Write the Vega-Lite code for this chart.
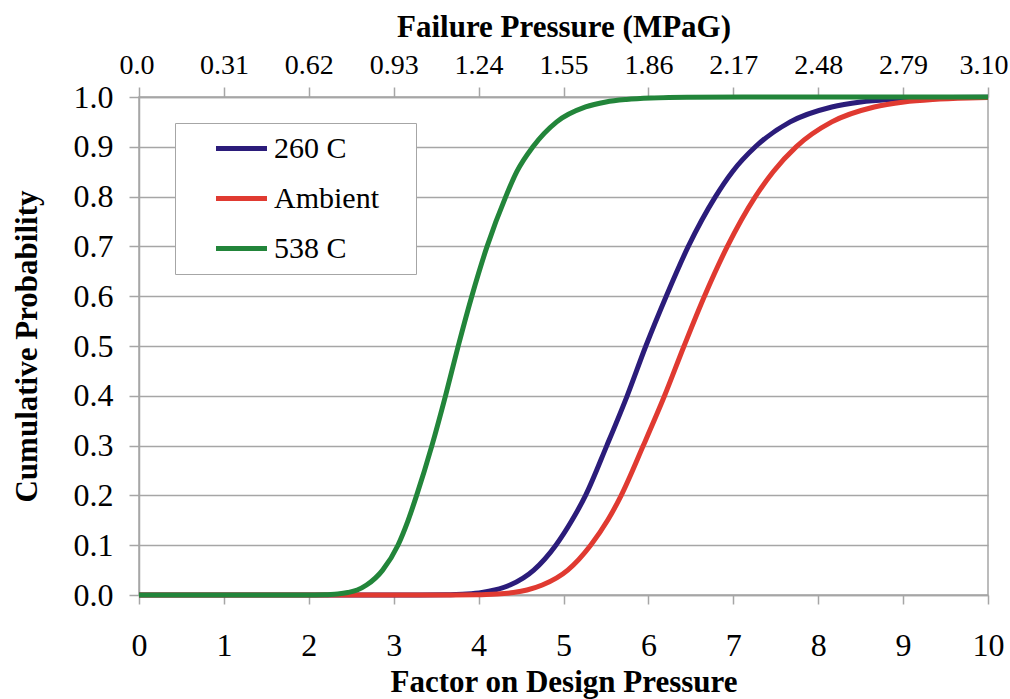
{
  "$schema": "https://vega.github.io/schema/vega-lite/v6.json",
  "width": 849,
  "height": 498,
  "autosize": "none",
  "padding": {"left": 139, "top": 97, "right": 22, "bottom": 104},
  "background": "white",
  "config": {
    "font": "Liberation Serif",
    "view": {"stroke": "#a6a6a6", "strokeWidth": 1.5},
    "axis": {
      "labelFont": "Liberation Serif",
      "titleFont": "Liberation Serif",
      "labelFontSize": 32,
      "titleFontSize": 31,
      "titleFontWeight": "bold",
      "labelColor": "black",
      "titleColor": "black",
      "domainColor": "#a6a6a6",
      "domainWidth": 1.5,
      "tickColor": "#a6a6a6",
      "tickWidth": 1.5,
      "tickSize": 10,
      "gridColor": "#a6a6a6",
      "gridWidth": 1.5,
      "labelFlush": false,
      "labelOverlap": false
    },
    "legend": {
      "labelFont": "Liberation Serif",
      "labelFontSize": 30,
      "labelColor": "black",
      "strokeColor": "#a6a6a6",
      "fillColor": "white"
    }
  },
  "data": {
    "values": [
      {"x": 0, "p": 0, "s": "260 C"},
      {"x": 3.3, "p": 0.0001, "s": "260 C"},
      {"x": 3.62, "p": 0.0005, "s": "260 C"},
      {"x": 3.73, "p": 0.001, "s": "260 C"},
      {"x": 3.86, "p": 0.002, "s": "260 C"},
      {"x": 4.04, "p": 0.005, "s": "260 C"},
      {"x": 4.19, "p": 0.01, "s": "260 C"},
      {"x": 4.37, "p": 0.02, "s": "260 C"},
      {"x": 4.65, "p": 0.05, "s": "260 C"},
      {"x": 4.91, "p": 0.1, "s": "260 C"},
      {"x": 5.1, "p": 0.15, "s": "260 C"},
      {"x": 5.26, "p": 0.2, "s": "260 C"},
      {"x": 5.51, "p": 0.3, "s": "260 C"},
      {"x": 5.75, "p": 0.4, "s": "260 C"},
      {"x": 5.97, "p": 0.5, "s": "260 C"},
      {"x": 6.21, "p": 0.6, "s": "260 C"},
      {"x": 6.47, "p": 0.7, "s": "260 C"},
      {"x": 6.79, "p": 0.8, "s": "260 C"},
      {"x": 6.99, "p": 0.85, "s": "260 C"},
      {"x": 7.26, "p": 0.9, "s": "260 C"},
      {"x": 7.67, "p": 0.95, "s": "260 C"},
      {"x": 8.16, "p": 0.98, "s": "260 C"},
      {"x": 8.5, "p": 0.99, "s": "260 C"},
      {"x": 8.83, "p": 0.995, "s": "260 C"},
      {"x": 9.25, "p": 0.998, "s": "260 C"},
      {"x": 9.55, "p": 0.999, "s": "260 C"},
      {"x": 10, "p": 0.9997, "s": "260 C"},
      {"x": 0, "p": 0, "s": "Ambient"},
      {"x": 3.7, "p": 0.0001, "s": "Ambient"},
      {"x": 3.97, "p": 0.0005, "s": "Ambient"},
      {"x": 4.09, "p": 0.001, "s": "Ambient"},
      {"x": 4.22, "p": 0.002, "s": "Ambient"},
      {"x": 4.41, "p": 0.005, "s": "Ambient"},
      {"x": 4.57, "p": 0.01, "s": "Ambient"},
      {"x": 4.75, "p": 0.02, "s": "Ambient"},
      {"x": 5.05, "p": 0.05, "s": "Ambient"},
      {"x": 5.32, "p": 0.1, "s": "Ambient"},
      {"x": 5.52, "p": 0.15, "s": "Ambient"},
      {"x": 5.68, "p": 0.2, "s": "Ambient"},
      {"x": 5.94, "p": 0.3, "s": "Ambient"},
      {"x": 6.19, "p": 0.4, "s": "Ambient"},
      {"x": 6.42, "p": 0.5, "s": "Ambient"},
      {"x": 6.66, "p": 0.6, "s": "Ambient"},
      {"x": 6.93, "p": 0.7, "s": "Ambient"},
      {"x": 7.26, "p": 0.8, "s": "Ambient"},
      {"x": 7.47, "p": 0.85, "s": "Ambient"},
      {"x": 7.74, "p": 0.9, "s": "Ambient"},
      {"x": 8.16, "p": 0.95, "s": "Ambient"},
      {"x": 8.66, "p": 0.98, "s": "Ambient"},
      {"x": 9.01, "p": 0.99, "s": "Ambient"},
      {"x": 9.35, "p": 0.995, "s": "Ambient"},
      {"x": 9.77, "p": 0.998, "s": "Ambient"},
      {"x": 10, "p": 0.9988, "s": "Ambient"},
      {"x": 0, "p": 0, "s": "538 C"},
      {"x": 1.95, "p": 0.0001, "s": "538 C"},
      {"x": 2.19, "p": 0.0005, "s": "538 C"},
      {"x": 2.26, "p": 0.001, "s": "538 C"},
      {"x": 2.34, "p": 0.002, "s": "538 C"},
      {"x": 2.46, "p": 0.005, "s": "538 C"},
      {"x": 2.57, "p": 0.01, "s": "538 C"},
      {"x": 2.68, "p": 0.02, "s": "538 C"},
      {"x": 2.87, "p": 0.05, "s": "538 C"},
      {"x": 3.05, "p": 0.1, "s": "538 C"},
      {"x": 3.17, "p": 0.15, "s": "538 C"},
      {"x": 3.27, "p": 0.2, "s": "538 C"},
      {"x": 3.45, "p": 0.3, "s": "538 C"},
      {"x": 3.61, "p": 0.4, "s": "538 C"},
      {"x": 3.76, "p": 0.5, "s": "538 C"},
      {"x": 3.92, "p": 0.6, "s": "538 C"},
      {"x": 4.1, "p": 0.7, "s": "538 C"},
      {"x": 4.32, "p": 0.8, "s": "538 C"},
      {"x": 4.45, "p": 0.85, "s": "538 C"},
      {"x": 4.64, "p": 0.9, "s": "538 C"},
      {"x": 4.92, "p": 0.95, "s": "538 C"},
      {"x": 5.26, "p": 0.98, "s": "538 C"},
      {"x": 5.5, "p": 0.99, "s": "538 C"},
      {"x": 5.74, "p": 0.995, "s": "538 C"},
      {"x": 6.03, "p": 0.998, "s": "538 C"},
      {"x": 6.24, "p": 0.999, "s": "538 C"},
      {"x": 6.45, "p": 0.9995, "s": "538 C"},
      {"x": 7.2, "p": 0.9999, "s": "538 C"},
      {"x": 10, "p": 1, "s": "538 C"}
    ]
  },
  "resolve": {"axis": {"x": "independent"}},
  "layer": [
    {
      "mark": {"type": "line", "strokeWidth": 5, "interpolate": "monotone"},
      "encoding": {
        "x": {
          "field": "x", "type": "quantitative",
          "scale": {"domain": [0, 10], "nice": false},
          "axis": {
            "orient": "bottom", "title": "Factor on Design Pressure",
            "values": [0,1,2,3,4,5,6,7,8,9,10], "grid": false,
            "tickSize": 9, "labelPadding": 26, "titlePadding": 6
          }
        },
        "y": {
          "field": "p", "type": "quantitative",
          "scale": {"domain": [0, 1], "nice": false},
          "axis": {
            "title": "Cumulative Probability",
            "values": [0,0.1,0.2,0.3,0.4,0.5,0.6,0.7,0.8,0.9,1.0],
            "format": ".1f", "labelPadding": 16, "titlePadding": 30
          }
        },
        "color": {
          "field": "s", "type": "nominal",
          "scale": {"domain": ["260 C", "Ambient", "538 C"], "range": ["#2B1C7A", "#E03A31", "#22853A"]},
          "legend": {
            "title": null, "orient": "none", "legendX": 36, "legendY": 26,
            "padding": 10, "symbolType": "M-2,0H2", "symbolSize": 650,
            "symbolStrokeWidth": 5, "symbolOffset": 41, "labelOffset": 17,
            "rowPadding": 19,
            "labelExpr": "datum.label + '\u2002\u2009\u2009\u200b'"
          }
        }
      }
    },
    {
      "mark": {"type": "point", "opacity": 0},
      "encoding": {
        "x": {
          "field": "x", "type": "quantitative",
          "axis": {
            "orient": "top", "title": "Failure Pressure (MPaG)",
            "values": [0,1,2,3,4,5,6,7,8,9,10], "grid": false,
            "labelFontSize": 28, "labelFlush": true, "labelFlushOffset": 20,
            "labelExpr": "datum.value == 0 ? '0.0' : format(datum.value * 0.31, '.2f')",
            "labelPadding": 8, "titlePadding": 8
          }
        },
        "y": {"field": "p", "type": "quantitative"}
      }
    }
  ]
}
